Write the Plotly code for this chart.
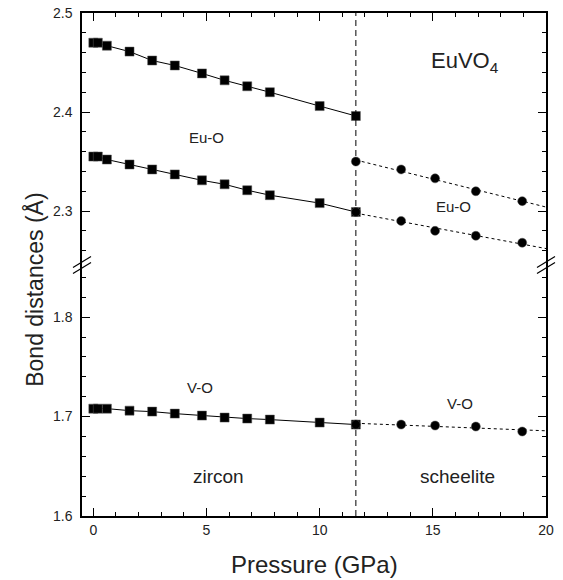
import numpy as np
import plotly.graph_objects as go
from plotly.subplots import make_subplots

# Pressure points (GPa)
p_zircon = [0.0, 0.2, 0.6, 1.6, 2.6, 3.6, 4.8, 5.8, 6.8, 7.8, 10.0, 11.6]
p_scheelite = [11.6, 13.6, 15.1, 16.9, 18.95]
p_transition = 11.6

# Bond distances (Å), zircon phase
euo_long_zircon = [2.470, 2.470, 2.467, 2.461, 2.452, 2.447, 2.439, 2.432, 2.426, 2.420, 2.406, 2.396]
euo_short_zircon = [2.355, 2.355, 2.352, 2.347, 2.342, 2.337, 2.331, 2.327, 2.321, 2.316, 2.308, 2.299]
vo_zircon = [1.708, 1.708, 1.708, 1.706, 1.705, 1.703, 1.701, 1.699, 1.698, 1.697, 1.694, 1.692]

# Bond distances (Å), scheelite phase
euo_long_scheelite = [2.350, 2.342, 2.333, 2.320, 2.310]
euo_short_scheelite = [2.299, 2.290, 2.280, 2.275, 2.268]
vo_scheelite = [1.692, 1.692, 1.691, 1.690, 1.685]

upper_range = [2.246, 2.5]
lower_range = [1.6, 1.853]
x_range = [-0.5, 20]

FONT = "Liberation Sans, Arial, Helvetica, sans-serif"

fig = make_subplots(rows=2, cols=1, shared_xaxes=True, vertical_spacing=0)


def zircon_trace(y, row):
    fig.add_trace(go.Scatter(
        x=p_zircon, y=y, mode="lines+markers",
        line=dict(color="black", width=1),
        marker=dict(symbol="square", size=9, color="black",
                    line=dict(color="#555", width=0.5)),
        showlegend=False, hoverinfo="x+y"), row=row, col=1)


def scheelite_trace(y, row):
    # linear trend of the high-pressure phase, carried to the axis end
    slope, icpt = np.polyfit(p_scheelite, y, 1)
    xf = np.array([p_transition, x_range[1]])
    fig.add_trace(go.Scatter(
        x=xf, y=slope * xf + icpt, mode="lines",
        line=dict(color="black", width=1, dash="dot"),
        showlegend=False, hoverinfo="skip"), row=row, col=1)
    fig.add_trace(go.Scatter(
        x=p_scheelite, y=y, mode="markers",
        marker=dict(symbol="circle", size=9, color="black",
                    line=dict(color="#555", width=0.5)),
        showlegend=False, hoverinfo="x+y"), row=row, col=1)


zircon_trace(euo_long_zircon, 1)
zircon_trace(euo_short_zircon, 1)
scheelite_trace(euo_long_scheelite, 1)
scheelite_trace(euo_short_scheelite, 1)
zircon_trace(vo_zircon, 2)
scheelite_trace(vo_scheelite, 2)

tick_font = dict(family=FONT, size=14, color="#222")
common_axis = dict(showline=True, linecolor="black", linewidth=1.5,
                   ticks="inside", ticklen=8, tickwidth=1, tickcolor="black",
                   showgrid=False, zeroline=False, tickfont=tick_font,
                   automargin=False)

# x axes: top edge on the upper panel, labelled bottom edge on the lower panel
fig.update_xaxes(range=x_range, dtick=5, tick0=0,
                 minor=dict(ticks="inside", dtick=1, ticklen=4, tickcolor="black"),
                 **common_axis)
fig.update_xaxes(side="top", showticklabels=False, row=1, col=1)
fig.update_xaxes(side="bottom", showticklabels=True, row=2, col=1)

# y axes, broken between the two panels
fig.update_yaxes(mirror="ticks", dtick=0.1, tick0=0, ticklabelstandoff=5,
                 minor=dict(ticks="inside", dtick=0.02, ticklen=4, tickcolor="black"),
                 **common_axis)
fig.update_yaxes(range=upper_range, tickformat=".1f", row=1, col=1)
fig.update_yaxes(range=lower_range, tickformat=".1f", row=2, col=1)

# phase boundary
fig.add_shape(type="line", xref="x", yref="paper", x0=p_transition, x1=p_transition,
              y0=0, y1=1, line=dict(color="black", width=1, dash="6px,4px"))

# axis break marks on both vertical axes
for xa in (0, 1):
    for off in (-3, 3):
        fig.add_shape(type="line", xref="paper", yref="paper",
                      xsizemode="pixel", ysizemode="pixel",
                      xanchor=xa, yanchor=0.5,
                      x0=-9, x1=9, y0=-6 + off, y1=5 + off,
                      line=dict(color="black", width=1.2))

labels = [
    (5.0, 2.374, "Eu-O", 15, "y"),
    (15.9, 2.305, "Eu-O", 15, "y"),
    (4.7, 1.729, "V-O", 15, "y2"),
    (16.2, 1.713, "V-O", 15, "y2"),
    (5.55, 1.640, "zircon", 19, "y2"),
    (16.1, 1.640, "scheelite", 19, "y2"),
    (16.4, 2.451, "EuVO<sub>4</sub>", 22, "y"),
]
for x, y, t, s, yr in labels:
    fig.add_annotation(x=x, y=y, xref="x", yref=yr, text=t, showarrow=False,
                       xanchor="center", yanchor="middle",
                       font=dict(family=FONT, size=s, color="#222"))

fig.add_annotation(x=0.5, y=-0.097, xref="paper", yref="paper",
                   text="Pressure (GPa)", showarrow=False,
                   xanchor="center", yanchor="middle",
                   font=dict(family=FONT, size=24, color="#222"))
fig.add_annotation(x=-0.101, y=0.45, xref="paper", yref="paper",
                   text="Bond distances (Å)", textangle=-90, showarrow=False,
                   xanchor="center", yanchor="middle",
                   font=dict(family=FONT, size=23, color="#222"))

fig.update_layout(width=563, height=580,
                  margin=dict(l=82, r=17, t=13, b=64, autoexpand=False),
                  plot_bgcolor="white", paper_bgcolor="white",
                  font=dict(family=FONT, color="#222"))

fig.write_html("out.html")
